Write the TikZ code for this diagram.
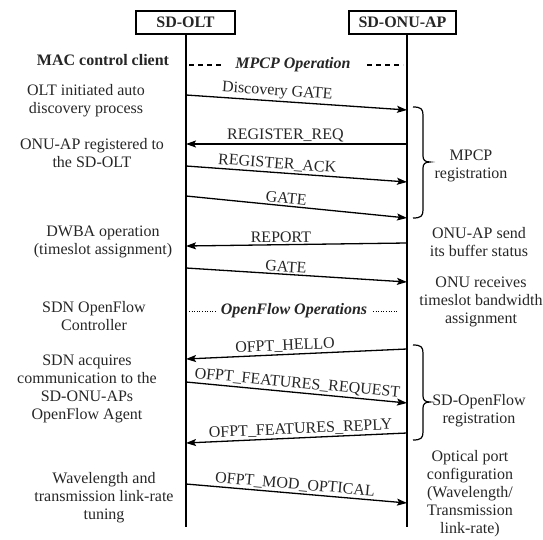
\documentclass[tikz,border=0pt]{standalone}
\usepackage{fontspec}
\setmainfont{Liberation Serif}
\usetikzlibrary{arrows.meta}
\begin{document}
\begin{tikzpicture}[x=1pt,y=-1pt,
  every node/.style={font=\fontsize{16}{18}\selectfont,text=black!85},
  actor/.style={draw,line width=1.3pt,inner sep=0pt,minimum height=23pt,font=\fontsize{16}{18}\selectfont\bfseries},
  lifeline/.style={line width=1.6pt},
  msg/.style={line width=1.3pt,-{Stealth[length=10pt,width=7pt,inset=2pt]}},
  msglabel/.style={sloped,above,inner sep=1.5pt,pos=0.45},
  note/.style={align=center},
  phase/.style={font=\fontsize{16}{18}\selectfont\bfseries\itshape},
  phasedash/.style={line width=1.2pt,dash pattern=on 5pt off 4pt},
  phasedot/.style={line width=0.9pt,dash pattern=on 1pt off 1.6pt},
  curly/.style={line width=1.2pt},
]
\useasboundingbox (0,0) rectangle (543,540);

% participants and their lifelines
\node[actor,minimum width=99pt] (olt) at (185.5,22.5) {SD-OLT};
\node[actor,minimum width=107pt] (onu) at (402.5,22.5) {SD-ONU-AP};
\coordinate (oltEnd) at (186,527);
\coordinate (onuEnd) at (407,527);
\draw[lifeline] (olt.south -| oltEnd) -- (oltEnd);
\draw[lifeline] (onu.south -| onuEnd) -- (onuEnd);

% MPCP phase header
\node[font=\fontsize{16}{18}\selectfont\bfseries] (mac) at (103,60) {MAC control client};
\node[phase] (mpcp) at (293,65) {MPCP Operation};
\coordinate (m1) at (189,65); \coordinate (m2) at (221,65);
\coordinate (m3) at (367,65); \coordinate (m4) at (403,65);
\draw[phasedash] (m1) -- (m2);
\draw[phasedash] (m3) -- (m4);

% message end points on the lifelines
\coordinate (a1) at (186,95);  \coordinate (b1) at (407,110);
\coordinate (a2) at (186,144); \coordinate (b2) at (407,144);
\coordinate (a3) at (186,166); \coordinate (b3) at (407,182);
\coordinate (a4) at (186,196); \coordinate (b4) at (407,218);
\coordinate (a5) at (186,246); \coordinate (b5) at (407,243);
\coordinate (a6) at (186,268); \coordinate (b6) at (407,282);
\coordinate (a7) at (186,359); \coordinate (b7) at (407,349);
\coordinate (a8) at (186,382); \coordinate (b8) at (407,403);
\coordinate (a9) at (186,443); \coordinate (b9) at (407,433);
\coordinate (a10) at (186,484); \coordinate (b10) at (407,503);

\draw[msg] (a1) -- node[msglabel,pos=0.41] {Discovery GATE} (b1);
\draw[msg] (b2) -- node[msglabel,pos=0.55] {REGISTER\_REQ} (a2);
\draw[msg] (a3) -- node[msglabel,pos=0.41] {REGISTER\_ACK} (b3);
\draw[msg] (a4) -- node[msglabel] {GATE} (b4);
\draw[msg] (b5) -- node[msglabel,pos=0.57] {REPORT} (a5);
\draw[msg] (a6) -- node[msglabel] {GATE} (b6);

% OpenFlow phase header
\node[phase] (of) at (294,311) {OpenFlow Operations};
\coordinate (f1) at (189,311); \coordinate (f2) at (217,311);
\coordinate (f3) at (373,311); \coordinate (f4) at (397,311);
\draw[phasedot] (f1) -- (f2);
\draw[phasedot] (f3) -- (f4);

\draw[msg] (b7) -- node[msglabel,pos=0.55] {OFPT\_HELLO} (a7);
\draw[msg] (a8) -- node[msglabel,pos=0.5] {OFPT\_FEATURES\_REQUEST} (b8);
\draw[msg] (b9) -- node[msglabel,pos=0.48] {OFPT\_FEATURES\_REPLY} (a9);
\draw[msg] (a10) -- node[msglabel,pos=0.49] {OFPT\_MOD\_OPTICAL} (b10);

% registration braces
\draw[curly] (413,107) .. controls (421,107) and (423,109) .. (423,115) -- (423,156)
  .. controls (423,160) and (425,162) .. (430,162)
  .. controls (425,162) and (423,164) .. (423,168) -- (423,210)
  .. controls (423,216) and (421,218) .. (413,218);
\draw[curly] (413,345) .. controls (421,345) and (423,347) .. (423,353) -- (423,396)
  .. controls (423,400) and (425,402) .. (430,402)
  .. controls (425,402) and (423,404) .. (423,408) -- (423,432)
  .. controls (423,438) and (421,440) .. (413,440);

% notes on the OLT side
\node[note] (n1) at (86,101) {OLT initiated auto\\discovery process};
\node[note] (n2) at (92,153) {ONU-AP registered to\\the SD-OLT};
\node[note] (n3) at (103,242) {DWBA operation\\(timeslot assignment)};
\node[note] (n4) at (94,316) {SDN OpenFlow\\Controller};
\node[note] (n5) at (87,389) {SDN acquires\\communication to the\\SD-ONU-APs\\OpenFlow Agent};
\node[note] (n6) at (104,498) {Wavelength and\\transmission link-rate\\tuning};

% notes on the ONU side
\node[note] (r1) at (471,166) {MPCP\\registration};
\node[note] (r2) at (479,242) {ONU-AP send\\its buffer status};
\node[note] (r3) at (481,302) {ONU receives\\timeslot bandwidth\\assignment};
\node[note] (r4) at (479,411) {SD-OpenFlow\\registration};
\node[note] (r5) at (470,494) {Optical port\\configuration\\(Wavelength/\\Transmission\\link-rate)};
\end{tikzpicture}
\end{document}
